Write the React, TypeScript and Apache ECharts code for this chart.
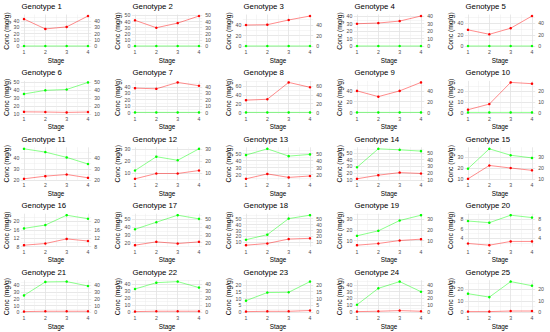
import React, { useEffect, useRef } from "react";
import * as echarts from "echarts";

const stages = [1, 2, 3, 4];
const minorStages = [1.5, 2.5, 3.5];

const genotypes = Array.from({ length: 25 }, (_, i) => `Genotype ${i + 1}`);

// red series per genotype (stages 1..4)
const redValues: number[][] = [
  [42.7, 27.2, 30.4, 47.5],
  [42, 30, 37.5, 49],
  [40, 40.6, 49.5, 57],
  [29.8, 30.7, 33.3, 40],
  [28.7, 20.9, 31.6, 53],
  [12.5, 12.3, 11.8, 12.3],
  [37.9, 36.9, 46.8, 41.6],
  [28, 30, 68, 57],
  [40, 29.4, 40, 55.6],
  [2.9, 8.1, 28.2, 27.0],
  [21.2, 23.6, 25.1, 22.1],
  [5.7, 10, 10, 12.4],
  [14, 21, 16, 18],
  [11.9, 17.2, 21, 19.7],
  [10.6, 22.6, 20.3, 18.2],
  [8.7, 9.5, 11.7, 10.7],
  [16.6, 20.9, 18.7, 20.9],
  [5.4, 8.3, 15.7, 16.9],
  [5.6, 7.2, 10, 11.25],
  [2.93, 2.57, 3.36, 3.36],
  [1, 1.5, 1.5, 1.5],
  [1, 1.5, 1.5, 1.5],
  [0.5, 0.7, 0.7, 1.3],
  [0.5, 1, 2, 1],
  [0.5, 0.5, 1, 1],
];

// green series per genotype (stages 1..4)
const greenValues: number[][] = [
  [0.4, 0.4, 0.4, 0.4],
  [0.4, 0.4, 0.4, 0.4],
  [0.4, 0.4, 0.4, 0.4],
  [0.4, 0.4, 0.4, 0.4],
  [0.4, 0.4, 0.4, 0.4],
  [35.3, 39.9, 41, 50],
  [0.4, 0.4, 0.4, 0.4],
  [0.4, 0.4, 0.4, 0.4],
  [0.4, 0.4, 0.4, 0.4],
  [0.4, 0.4, 0.4, 0.4],
  [48.4, 45.4, 40.6, 34.6],
  [12.4, 23.6, 20.7, 30],
  [48, 57, 46.5, 49],
  [28.8, 55.9, 54.4, 52.5],
  [19.7, 37.6, 31.8, 29.4],
  [16.7, 18.3, 23.0, 21.3],
  [37.1, 46.1, 55.1, 50.4],
  [14.6, 23.1, 50, 55.7],
  [14.4, 19.1, 28.75, 33.75],
  [7.64, 7.29, 8.86, 8.36],
  [25, 45, 45.5, 39],
  [33, 42, 43.5, 35],
  [8.5, 14.4, 14.6, 22.4],
  [10.7, 35, 45, 30],
  [16.2, 13.2, 26.8, 23.2],
];

// y tick step per genotype
const tickSteps = [10, 10, 20, 10, 20, 10, 10, 20, 20, 10, 10, 10, 10, 10, 10, 4, 10, 10, 10, 2, 10, 10, 5, 10, 10];

const FONT = "'Liberation Sans', Arial, sans-serif";
const COL_W = 111;
const ROW_H = 66.4;

export default function App() {
  const ref = useRef<HTMLDivElement>(null);
  useEffect(() => {
    if (!ref.current) return;
    const chart = echarts.init(ref.current, undefined, { renderer: "svg" });
    const titles: any[] = [];
    const grids: any[] = [];
    const xAxes: any[] = [];
    const yAxes: any[] = [];
    const series: any[] = [];
    genotypes.forEach((name, i) => {
      const c = i % 5;
      const r = Math.floor(i / 5);
      const ox = c * COL_W;
      const oy = r * ROW_H;
      const all = [...redValues[i], ...greenValues[i]];
      const dmin = Math.min(...all);
      const dmax = Math.max(...all);
      const pad = (dmax - dmin) * 0.05;
      const lo = dmin - pad;
      const hi = dmax + pad;
      const step = tickSteps[i];
      const majors: number[] = [];
      const minors: number[] = [];
      for (let k = Math.ceil(lo / step); k * step <= hi; k++) majors.push(k * step);
      for (let k = Math.floor(lo / step) - 1; (k + 0.5) * step <= hi; k++) {
        const v = (k + 0.5) * step;
        if (v >= lo) minors.push(v);
      }
      titles.push({
        text: name,
        left: ox + 21.5,
        top: oy + 2.5,
        padding: 0,
        textStyle: { fontSize: 7.8, fontWeight: "normal", color: "#000", fontFamily: FONT },
      });
      grids.push({ left: ox + 20.8, top: oy + 14.5, width: 70.4, height: 33 });
      const lbl = { fontSize: 5.2, color: "#4d4d4d", fontFamily: FONT };
      xAxes.push({
        gridIndex: i,
        type: "value",
        min: 0.85,
        max: 4.15,
        name: "Stage",
        nameLocation: "middle",
        nameGap: 10,
        nameTextStyle: { fontSize: 6.4, color: "#000", fontFamily: FONT },
        axisLine: { show: false },
        axisTick: { show: false, customValues: stages },
        axisLabel: { ...lbl, customValues: stages, margin: 2.3 },
        splitLine: { show: true, lineStyle: { color: "#e2e2e2", width: 0.8 } },
      });
      xAxes.push({
        gridIndex: i,
        type: "value",
        position: "top",
        min: 0.85,
        max: 4.15,
        axisLine: { show: false },
        axisTick: { show: false, customValues: minorStages },
        axisLabel: { show: false },
        splitLine: { show: true, lineStyle: { color: "#ededed", width: 0.5 } },
      });
      yAxes.push({
        gridIndex: i,
        type: "value",
        position: "left",
        min: lo,
        max: hi,
        name: "Conc (mg/g)",
        nameLocation: "middle",
        nameGap: 10.5,
        nameTextStyle: { fontSize: 6.8, color: "#000", fontFamily: FONT },
        axisLine: { show: false },
        axisTick: { show: false, customValues: majors },
        axisLabel: { ...lbl, customValues: majors, margin: 1.5 },
        splitLine: { show: true, lineStyle: { color: "#e2e2e2", width: 0.8 } },
      });
      yAxes.push({
        gridIndex: i,
        type: "value",
        position: "right",
        min: lo,
        max: hi,
        axisLine: { show: false },
        axisTick: { show: false, customValues: minors },
        axisLabel: { ...lbl, customValues: majors, margin: 3 },
        splitLine: { show: true, lineStyle: { color: "#ededed", width: 0.5 } },
      });
      series.push({
        type: "line",
        xAxisIndex: 2 * i,
        yAxisIndex: 2 * i,
        data: stages.map((s, k) => [s, redValues[i][k]]),
        symbol: "circle",
        symbolSize: 2.5,
        lineStyle: { color: "rgba(255,0,0,0.5)", width: 0.9 },
        itemStyle: { color: "#ff0000" },
      });
      series.push({
        type: "line",
        xAxisIndex: 2 * i,
        yAxisIndex: 2 * i,
        data: stages.map((s, k) => [s, greenValues[i][k]]),
        symbol: "circle",
        symbolSize: 2.5,
        lineStyle: { color: "rgba(0,255,0,0.5)", width: 0.9 },
        itemStyle: { color: "#00ff00" },
      });
    });
    chart.setOption({
      animation: false,
      backgroundColor: "#fff",
      title: titles,
      grid: grids,
      xAxis: xAxes,
      yAxis: yAxes,
      series,
    });
    return () => chart.dispose();
  }, []);
  return (
    <div
      ref={ref}
      style={{ position: "fixed", left: 0, top: 0, width: 550, height: 332 }}
    />
  );
}
